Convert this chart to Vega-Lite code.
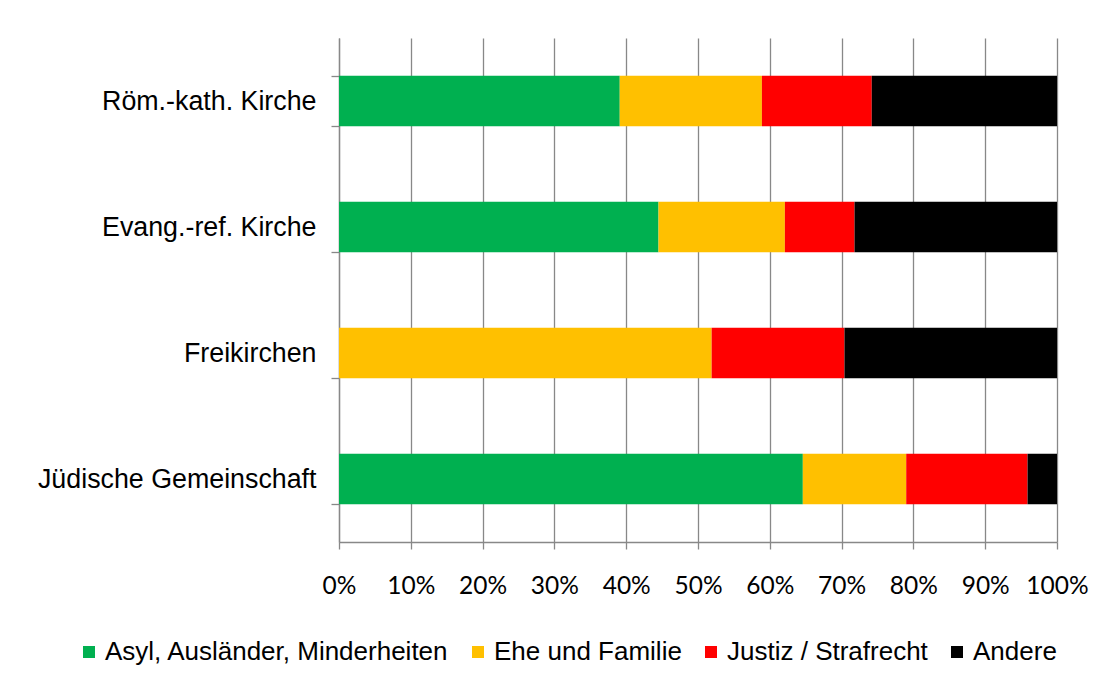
{
  "$schema": "https://vega.github.io/schema/vega-lite/v6.json",
  "autosize": "none",
  "width": 718,
  "height": 504,
  "padding": {"left": 339, "top": 38, "right": 48, "bottom": 142},
  "background": "white",
  "data": {
    "values": [
      {"Gemeinschaft": "Röm.-kath. Kirche", "Thema": "Asyl, Ausländer, Minderheiten", "Anteil": 39.1},
      {"Gemeinschaft": "Röm.-kath. Kirche", "Thema": "Ehe und Familie", "Anteil": 19.8},
      {"Gemeinschaft": "Röm.-kath. Kirche", "Thema": "Justiz / Strafrecht", "Anteil": 15.3},
      {"Gemeinschaft": "Röm.-kath. Kirche", "Thema": "Andere", "Anteil": 25.8},
      {"Gemeinschaft": "Evang.-ref. Kirche", "Thema": "Asyl, Ausländer, Minderheiten", "Anteil": 44.5},
      {"Gemeinschaft": "Evang.-ref. Kirche", "Thema": "Ehe und Familie", "Anteil": 17.6},
      {"Gemeinschaft": "Evang.-ref. Kirche", "Thema": "Justiz / Strafrecht", "Anteil": 9.7},
      {"Gemeinschaft": "Evang.-ref. Kirche", "Thema": "Andere", "Anteil": 28.2},
      {"Gemeinschaft": "Freikirchen", "Thema": "Asyl, Ausländer, Minderheiten", "Anteil": 0},
      {"Gemeinschaft": "Freikirchen", "Thema": "Ehe und Familie", "Anteil": 51.9},
      {"Gemeinschaft": "Freikirchen", "Thema": "Justiz / Strafrecht", "Anteil": 18.5},
      {"Gemeinschaft": "Freikirchen", "Thema": "Andere", "Anteil": 29.6},
      {"Gemeinschaft": "Jüdische Gemeinschaft", "Thema": "Asyl, Ausländer, Minderheiten", "Anteil": 64.6},
      {"Gemeinschaft": "Jüdische Gemeinschaft", "Thema": "Ehe und Familie", "Anteil": 14.4},
      {"Gemeinschaft": "Jüdische Gemeinschaft", "Thema": "Justiz / Strafrecht", "Anteil": 16.9},
      {"Gemeinschaft": "Jüdische Gemeinschaft", "Thema": "Andere", "Anteil": 4.1}
    ]
  },
  "transform": [
    {"calculate": "indexof(['Asyl, Ausländer, Minderheiten', 'Ehe und Familie', 'Justiz / Strafrecht', 'Andere'], datum.Thema)", "as": "Reihenfolge"}
  ],
  "mark": {"type": "bar"},
  "encoding": {
    "y": {
      "field": "Gemeinschaft",
      "type": "nominal",
      "sort": ["Röm.-kath. Kirche", "Evang.-ref. Kirche", "Freikirchen", "Jüdische Gemeinschaft"],
      "scale": {"paddingInner": 0.6, "paddingOuter": 0.3},
      "axis": {
        "title": null,
        "tickBand": "extent",
        "ticks": true,
        "tickSize": 8,
        "tickColor": "#888888",
        "tickWidth": 1.3,
        "domainColor": "#888888",
        "domainWidth": 1.3,
        "labelFont": "Liberation Sans",
        "labelFontSize": 26.8,
        "labelColor": "#000000",
        "labelPadding": 15,
        "labelLimit": 400,
        "grid": false
      }
    },
    "x": {
      "field": "Anteil",
      "type": "quantitative",
      "stack": "normalize",
      "scale": {"domain": [0, 1], "nice": false},
      "axis": {
        "title": null,
        "values": [0, 0.1, 0.2, 0.3, 0.4, 0.5, 0.6, 0.7, 0.8, 0.9, 1],
        "format": ".0%",
        "grid": true,
        "gridColor": "#888888",
        "gridWidth": 1.3,
        "tickSize": 7,
        "tickColor": "#888888",
        "tickWidth": 1.3,
        "domainColor": "#888888",
        "domainWidth": 1.3,
        "labelFont": "Lato",
        "labelFontSize": 24.5,
        "labelColor": "#000000",
        "labelPadding": 25,
        "labelFlush": false,
        "labelOverlap": false
      }
    },
    "order": {"field": "Reihenfolge", "type": "quantitative", "sort": "ascending"},
    "color": {
      "field": "Thema",
      "type": "nominal",
      "sort": ["Asyl, Ausländer, Minderheiten", "Ehe und Familie", "Justiz / Strafrecht", "Andere"],
      "scale": {
        "domain": ["Asyl, Ausländer, Minderheiten", "Ehe und Familie", "Justiz / Strafrecht", "Andere"],
        "range": ["#00B050", "#FFC000", "#FF0000", "#000000"]
      },
      "legend": {
        "title": null,
        "orient": "none",
        "direction": "horizontal",
        "legendX": -263,
        "legendY": 601,
        "padding": 0,
        "symbolType": "square",
        "symbolSize": 144,
        "symbolStrokeWidth": 0,
        "labelFont": "Liberation Sans",
        "labelFontSize": 26,
        "labelColor": "#000000",
        "labelOffset": 3,
        "labelLimit": 500,
        "columnPadding": 16
      }
    }
  },
  "config": {
    "view": {"stroke": null}
  }
}
